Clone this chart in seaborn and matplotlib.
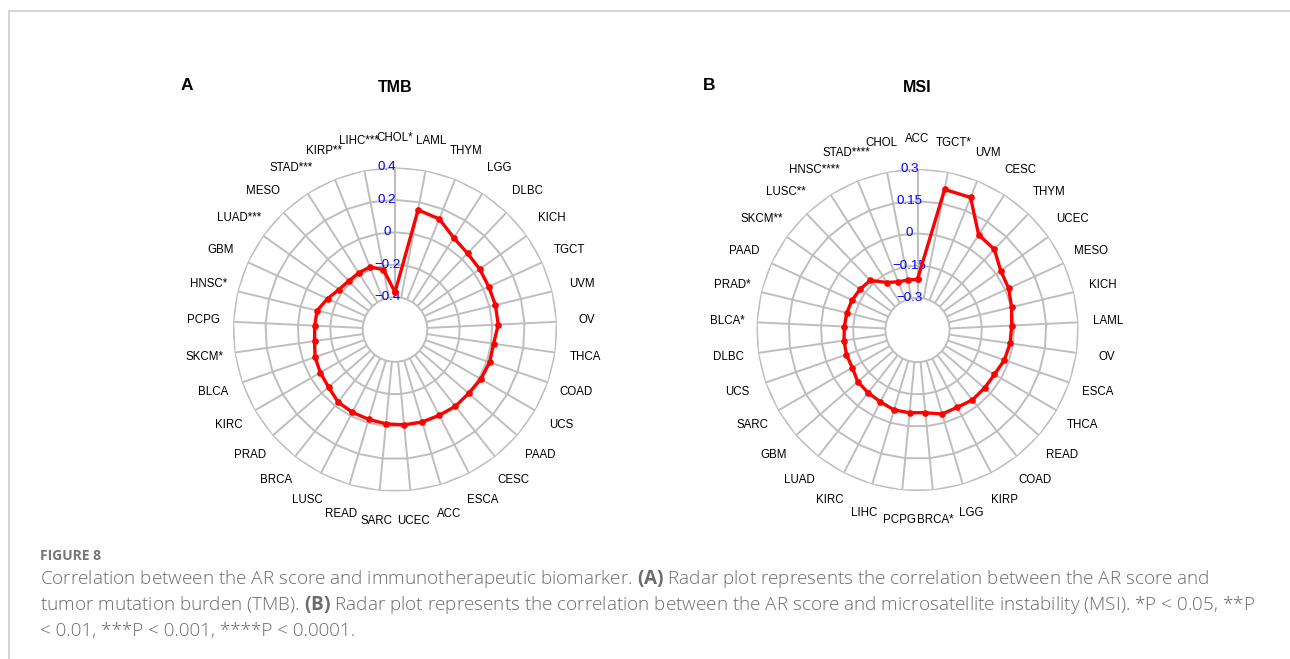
import numpy as np
import pandas as pd
import matplotlib
matplotlib.use("Agg")
import matplotlib.pyplot as plt
import matplotlib.transforms as mtransforms
import seaborn as sns
from matplotlib.lines import Line2D

# ---------------- data ----------------
tmb_categories = ["CHOL*", "LAML", "THYM", "LGG", "DLBC", "KICH", "TGCT", "UVM", "OV", "THCA",
                  "COAD", "UCS", "PAAD", "CESC", "ESCA", "ACC", "UCEC", "SARC", "READ", "LUSC",
                  "BRCA", "PRAD", "KIRC", "BLCA", "SKCM*", "PCPG", "HNSC*", "GBM", "LUAD***",
                  "MESO", "STAD***", "KIRP**", "LIHC***"]
tmb_values = [-0.370, 0.152, 0.135, 0.072, 0.049, 0.042, 0.036, 0.038, 0.038, 0.015,
              0.018, 0.012, 0.002, 0.003, -0.004, -0.005, -0.009, -0.015, -0.022, -0.025,
              -0.031, -0.057, -0.068, -0.078, -0.098, -0.104, -0.105, -0.142, -0.175,
              -0.186, -0.185, -0.184, -0.224]
tmb_ticks = [-0.4, -0.2, 0.0, 0.2, 0.4]
tmb_tick_labels = ["\u22120.4", "\u22120.2", "0", "0.2", "0.4"]

msi_categories = ["ACC", "TGCT*", "UVM", "CESC", "THYM", "UCEC", "MESO", "KICH", "LAML", "OV",
                  "ESCA", "THCA", "READ", "COAD", "KIRP", "LGG", "BRCA*", "PCPG", "LIHC", "KIRC",
                  "LUAD", "GBM", "SARC", "UCS", "DLBC", "BLCA*", "PRAD*", "PAAD", "SKCM**",
                  "LUSC**", "HNSC****", "STAD****", "CHOL"]
msi_values = [-0.214, 0.217, 0.215, 0.077, 0.069, 0.026, 0.017, 0.001, -0.011, -0.014,
              -0.022, -0.036, -0.037, -0.036, -0.045, -0.042, -0.063, -0.063, -0.062, -0.073,
              -0.078, -0.082, -0.099, -0.100, -0.104, -0.109, -0.111, -0.115, -0.122,
              -0.131, -0.187, -0.208, -0.213]
msi_ticks = [-0.3, -0.15, 0.0, 0.15, 0.3]
msi_tick_labels = ["\u22120.3", "\u22120.15", "0", "0.15", "0.3"]

caption_title = "FIGURE 8"
caption_lines = [
    "Correlation between the AR score and immunotherapeutic biomarker. $\\mathbf{(A)}$ Radar plot represents the correlation between the AR score and",
    "tumor mutation burden (TMB). $\\mathbf{(B)}$ Radar plot represents the correlation between the AR score and microsatellite instability (MSI). *P < 0.05, **P",
    "< 0.01, ***P < 0.001, ****P < 0.0001.",
]

# ---------------- style ----------------
sns.set_theme(style="white")
plt.rcParams["font.family"] = ["Liberation Sans", "DejaVu Sans"]
plt.rcParams["text.color"] = "black"
plt.rcParams["mathtext.fontset"] = "custom"
plt.rcParams["mathtext.rm"] = "Open Sans:light"
plt.rcParams["mathtext.bf"] = "Open Sans:bold"

W, H = 1290, 659
fig = plt.figure(figsize=(W / 100, H / 100), dpi=100)
fig.patch.set_facecolor("white")


def radar(cx, cy, rad, cats, vals, ticks, tick_labels, center, title, letter):
    rect = [(cx - rad) / W, 1 - (cy + rad) / H, 2 * rad / W, 2 * rad / H]
    ax = fig.add_axes(rect, projection="polar")
    ax.set_theta_zero_location("N")
    ax.set_theta_direction(-1)
    n = len(cats)
    theta = np.linspace(0, 2 * np.pi, n, endpoint=False)
    tclosed = np.append(theta, 2 * np.pi)
    lo, hi = ticks[0], ticks[-1]
    ax.set_ylim(center, hi)
    ax.grid(False)
    ax.set_xticks([])
    ax.set_yticks([])
    ax.spines["polar"].set_visible(False)
    ax.patch.set_alpha(0)

    gkw = dict(color="#bebebe", lw=1.4, zorder=1, solid_capstyle="butt")
    for t in ticks:
        ax.plot(tclosed, np.full(n + 1, t), **gkw)
    for th in theta:
        ax.plot([th, th], [lo, hi], **gkw)
    lab_tr = mtransforms.offset_copy(ax.transData, fig=fig, x=-8, y=0, units="dots")
    for t, lab in zip(ticks, tick_labels):
        ax.text(0, t, lab, color="#0000ff", ha="center", va="center", fontsize=9.6,
                zorder=2, transform=lab_tr)

    df = pd.DataFrame({"theta": tclosed, "value": np.append(vals, vals[0])})
    sns.lineplot(data=df, x="theta", y="value", sort=False, estimator=None, ax=ax,
                 color="#ff0000", lw=2.4, marker="o", markersize=4.8,
                 markeredgewidth=0, zorder=3)
    ax.set_xlabel("")
    ax.set_ylabel("")

    rl = hi + 0.185 * (hi - center)
    for th, c in zip(theta, cats):
        ax.text(th, rl, c, ha="center", va="center", fontsize=8.3, color="black",
                clip_on=False)

    fig.text(cx / W, 1 - 88 / H, title, ha="center", va="center",
             fontsize=11.5, fontweight="bold", color="black")
    fig.text((cx - 208) / W, 1 - 86 / H, letter, ha="center", va="center",
             fontsize=12.5, fontweight="bold", color="black")
    return ax


radar(395, 329.5, 162, tmb_categories, tmb_values, tmb_ticks, tmb_tick_labels, -0.6, "TMB", "A")
radar(917.5, 330, 161, msi_categories, msi_values, msi_ticks, msi_tick_labels, -0.45, "MSI", "B")

# caption
cap_color = "#6b6b6b"
fig.text(40 / W, 1 - 556 / H, caption_title, ha="left", va="center", fontsize=10,
         fontweight="bold", color="#777777", family="Open Sans")
for i, line in enumerate(caption_lines):
    fig.text(40 / W, 1 - (579 + 26 * i) / H, line, ha="left", va="center", fontsize=13.6,
             color=cap_color, family="Open Sans", fontweight="light")

# frame lines
lc = "#d4d4d4"
fig.add_artist(Line2D([9 / W, 1], [1 - 11 / H, 1 - 11 / H], transform=fig.transFigure,
                      color=lc, lw=1.4))
fig.add_artist(Line2D([9 / W, 9 / W], [0, 1 - 11 / H], transform=fig.transFigure,
                      color=lc, lw=1.4))

fig.savefig("out.png", dpi=100, facecolor="white")
